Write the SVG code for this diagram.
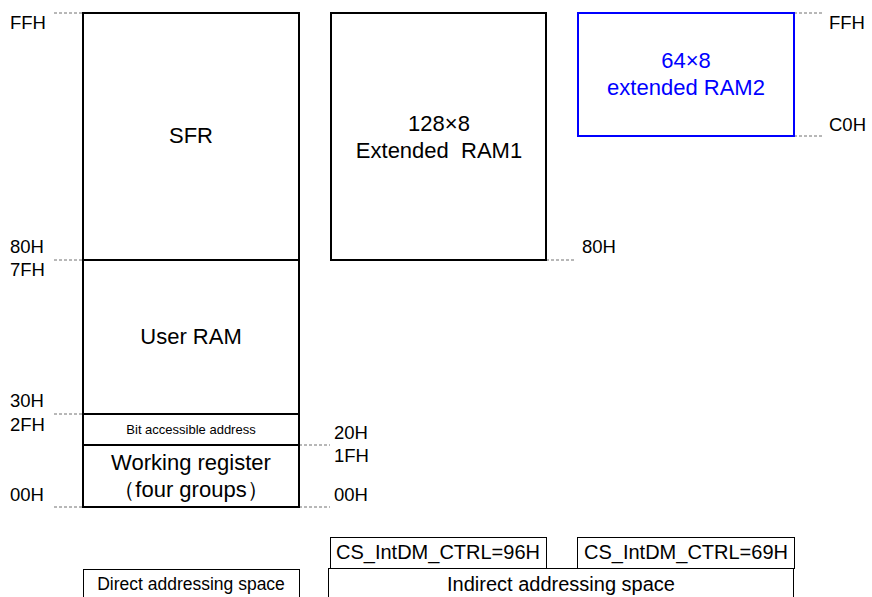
<svg xmlns="http://www.w3.org/2000/svg" width="872" height="597" viewBox="0 0 872 597">
<style>
text{font-family:"Liberation Sans",Arial,sans-serif;fill:#000}
.box{fill:#fff;stroke:#000;stroke-width:2}
.blue{fill:#fff;stroke:#0000ff;stroke-width:2}
.thin{fill:#fff;stroke:#000;stroke-width:1}
.dash{stroke:#707070;stroke-width:1;stroke-dasharray:3,2;fill:none}
.lbl{font-size:18.5px}
.c{text-anchor:middle}
.big{font-size:22px}
</style>
<rect width="872" height="597" fill="#fff"/>
<g id="connectors">
<line class="dash" x1="54" y1="13" x2="83" y2="13"/>
<line class="dash" x1="54" y1="260" x2="83" y2="260"/>
<line class="dash" x1="54" y1="414" x2="83" y2="414"/>
<line class="dash" x1="54" y1="507" x2="83" y2="507"/>
<line class="dash" x1="299" y1="445" x2="330" y2="445"/>
<line class="dash" x1="299" y1="507" x2="330" y2="507"/>
<line class="dash" x1="546" y1="260" x2="576" y2="260"/>
<line class="dash" x1="794" y1="13" x2="823" y2="13"/>
<line class="dash" x1="794" y1="136" x2="823" y2="136"/>
</g>
<g id="labels">
<text class="lbl" x="10" y="29">FFH</text>
<text class="lbl" x="10" y="253">80H</text>
<text class="lbl" x="10" y="276">7FH</text>
<text class="lbl" x="10" y="407">30H</text>
<text class="lbl" x="10" y="431">2FH</text>
<text class="lbl" x="10" y="501">00H</text>
<text class="lbl" x="334" y="439">20H</text>
<text class="lbl" x="334" y="462">1FH</text>
<text class="lbl" x="334" y="501">00H</text>
<text class="lbl" x="582" y="253">80H</text>
<text class="lbl" x="829" y="29">FFH</text>
<text class="lbl" x="829" y="131">C0H</text>
</g>
<g id="sfr">
<rect class="box" x="83" y="13" width="216" height="247"/>
<text class="c big" x="191" y="143">SFR</text>
</g>
<g id="user-ram">
<rect class="box" x="83" y="260" width="216" height="154"/>
<text class="c big" x="191" y="344">User RAM</text>
</g>
<g id="bit-accessible">
<rect class="box" x="83" y="414" width="216" height="31"/>
<text class="c" x="191" y="434" font-size="13">Bit accessible address</text>
</g>
<g id="working-register">
<rect class="box" x="83" y="445" width="216" height="62"/>
<text class="c big" x="191" y="470">Working register</text>
<text class="c big" x="191" y="497">（four groups）</text>
</g>
<g id="ram1">
<rect class="box" x="331" y="13" width="215" height="247"/>
<text class="c big" x="439" y="131">128×8</text>
<text class="c big" x="439" y="158" xml:space="preserve">Extended  RAM1</text>
</g>
<g id="ram2">
<rect class="blue" x="578" y="13" width="216" height="123"/>
<text class="c big" x="686" y="68" style="fill:#0000ff">64×8</text>
<text class="c big" x="686" y="95" style="fill:#0000ff">extended RAM2</text>
</g>
<g id="cs96">
<rect class="thin" x="330.5" y="537.5" width="216" height="31"/>
<text class="c" x="438" y="559" font-size="20">CS_IntDM_CTRL=96H</text>
</g>
<g id="cs69">
<rect class="thin" x="577.5" y="537.5" width="217" height="31"/>
<text class="c" x="686" y="559" font-size="20">CS_IntDM_CTRL=69H</text>
</g>
<g id="indirect">
<rect class="thin" x="328.5" y="568.5" width="465" height="40"/>
<text class="c" x="561" y="591" font-size="20">Indirect addressing space</text>
</g>
<g id="direct">
<rect class="thin" x="83.5" y="569.5" width="216" height="40"/>
<text class="c" x="191" y="590" font-size="17.5">Direct addressing space</text>
</g>
</svg>
